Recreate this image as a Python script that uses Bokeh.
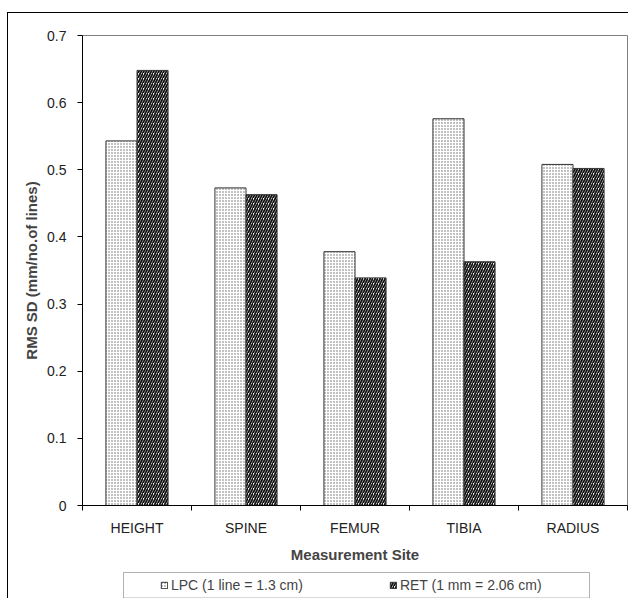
from bokeh.plotting import figure
from bokeh.layouts import column
from bokeh.models import FixedTicker, Legend, LegendItem, Range1d, BoxAnnotation
from bokeh.embed import file_html
from bokeh.resources import INLINE

categories = ["HEIGHT", "SPINE", "FEMUR", "TIBIA", "RADIUS"]
lpc = [0.543, 0.473, 0.378, 0.576, 0.508]
ret = [0.648, 0.463, 0.339, 0.363, 0.502]
series_names = ["LPC (1 line = 1.3 cm)", "RET (1 mm = 2.06 cm)"]
y_ticks = [0, 0.1, 0.2, 0.3, 0.4, 0.5, 0.6, 0.7]

FONT = "Liberation Sans"
BW = 0.285
LPC_STYLE = dict(fill_color="white", line_color="#333333", line_width=1,
                 hatch_pattern="dot", hatch_scale=3, hatch_weight=1, hatch_color="#666666")
RET_STYLE = dict(fill_color="white", line_color="#333333", line_width=1,
                 hatch_pattern="right_diagonal_line", hatch_scale=5, hatch_weight=1.8, hatch_color="#111111")

p = figure(width=620, height=552, output_backend="svg", toolbar_location=None,
           x_range=Range1d(0, 5), y_range=Range1d(0, 0.7),
           min_border_left=74, min_border_top=22, min_border_right=1, min_border_bottom=60)
p.background_fill_color = "white"
p.border_fill_color = "white"
p.outline_line_color = "#808080"
p.outline_line_width = 1
p.xgrid.visible = False
p.ygrid.visible = False

xc = [i + 0.5 for i in range(len(categories))]
p.vbar(x=[c - BW / 2 for c in xc], top=lpc, width=BW, bottom=0, **LPC_STYLE)
p.vbar(x=[c + BW / 2 for c in xc], top=ret, width=BW, bottom=0, **RET_STYLE)

xa = p.xaxis[0]
xa.ticker = FixedTicker(ticks=xc, minor_ticks=[0, 1, 2, 3, 4, 5])
xa.major_label_overrides = {c: n for c, n in zip(xc, categories)}
xa.major_tick_out = 0
xa.major_tick_in = 0
xa.minor_tick_out = 5
xa.minor_tick_in = 0
xa.minor_tick_line_color = "black"
xa.axis_line_color = "black"
xa.major_label_text_font = FONT
xa.major_label_text_font_size = "14px"
xa.major_label_text_color = "#222222"
xa.major_label_standoff = 9
xa.axis_label = "Measurement Site"
xa.axis_label_text_font = FONT
xa.axis_label_text_font_size = "15px"
xa.axis_label_text_font_style = "bold"
xa.axis_label_standoff = 7

ya = p.yaxis[0]
ya.ticker = FixedTicker(ticks=y_ticks)
ya.major_label_overrides = {0: "0"}
ya.major_tick_out = 5
ya.major_tick_in = 0
ya.minor_tick_out = 0
ya.minor_tick_in = 0
ya.axis_line_color = "black"
ya.major_label_text_font = FONT
ya.major_label_text_font_size = "14px"
ya.major_label_text_color = "#222222"
ya.major_label_standoff = 11
ya.axis_label = "RMS SD (mm/no.of lines)"
ya.axis_label_text_font = FONT
ya.axis_label_text_font_size = "15px"
ya.axis_label_text_font_style = "bold"
ya.axis_label_standoff = 4

# legend strip below the chart (frame aligned with the main chart's frame)
pl = figure(width=620, height=33, output_backend="svg", toolbar_location=None,
            x_range=Range1d(0, 1), y_range=Range1d(0, 1),
            x_axis_type=None, y_axis_type=None,
            min_border_left=74, min_border_right=1, min_border_top=0, min_border_bottom=0)
pl.outline_line_color = None
pl.xgrid.visible = False
pl.ygrid.visible = False
pl.background_fill_color = "white"
pl.border_fill_color = "white"
# legend-only proxies (placed outside the visible range)
l1 = pl.vbar(x=[-5], top=[-5], bottom=[-6], width=1, **LPC_STYLE)
l2 = pl.vbar(x=[-5], top=[-5], bottom=[-6], width=1, **RET_STYLE)
pl.add_layout(BoxAnnotation(left=41, right=507, top=26, bottom=0.5,
                            left_units="screen", right_units="screen",
                            top_units="screen", bottom_units="screen",
                            fill_color="white", fill_alpha=1,
                            line_color="black", line_width=1, level="underlay"))
legend = Legend(items=[LegendItem(label=series_names[0], renderers=[l1]),
                       LegendItem(label=series_names[1], renderers=[l2])],
                orientation="horizontal", location=(78, 5),
                border_line_alpha=0, background_fill_alpha=0,
                label_text_font=FONT, label_text_font_size="14px",
                glyph_width=8, glyph_height=8, label_standoff=3,
                spacing=86, padding=0, margin=0)
pl.add_layout(legend, "center")

layout = column(p, pl, margin=(12, 0, 0, 7),
                styles={"border-left": "1px solid black", "border-top": "1px solid black"})

open("out.html", "w").write(file_html(layout, INLINE))
